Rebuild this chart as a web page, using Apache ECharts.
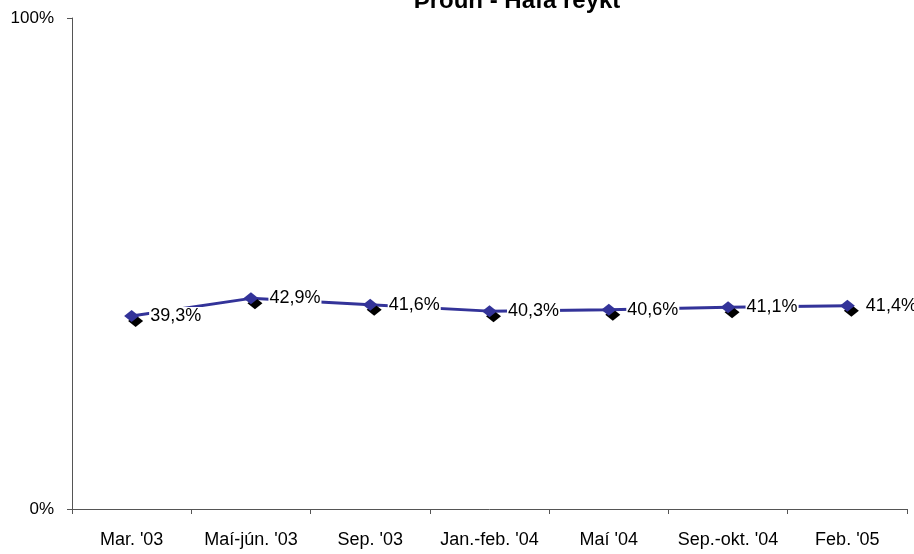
<!DOCTYPE html>
<html>
<head>
<meta charset="utf-8">
<style>
  html, body { margin: 0; padding: 0; background: #fff; }
  #chart { width: 914px; height: 554px; }
</style>
<script src="https://cdn.jsdelivr.net/npm/echarts@6/dist/echarts.min.js"></script>
</head>
<body>
<div id="chart"></div>
<script>
// values
var categories = ["Mar. '03", "Maí-jún. '03", "Sep. '03", "Jan.-feb. '04", "Maí '04", "Sep.-okt. '04", "Feb. '05"];
var values = [39.3, 42.9, 41.6, 40.3, 40.6, 41.1, 41.4];
var titleText = "Þróun - Hafa reykt";

var chart = echarts.init(document.getElementById("chart"));
var font = "'Liberation Sans', Arial, sans-serif";

chart.setOption({
  animation: false,
  title: {
    text: titleText,
    left: 512,
    top: -16,
    textAlign: "center",
    textStyle: { fontFamily: font, fontSize: 24, fontWeight: "bold", color: "#000" }
  },
  grid: { left: 72, right: 7, top: 18, bottom: 45, containLabel: false },
  xAxis: {
    type: "category",
    data: categories,
    boundaryGap: true,
    axisLine: { lineStyle: { color: "#555", width: 1 } },
    axisTick: { show: true, length: 5, lineStyle: { color: "#555" } },
    axisLabel: { interval: 0, fontFamily: font, fontSize: 18, color: "#000", margin: 22 },
    splitLine: { show: false }
  },
  yAxis: {
    type: "value",
    min: 0,
    max: 100,
    interval: 100,
    axisLine: { show: true, lineStyle: { color: "#555", width: 1 } },
    axisTick: { show: true, length: 5, lineStyle: { color: "#555" } },
    axisLabel: {
      fontFamily: font, fontSize: 17, color: "#000", margin: 18,
      formatter: function (v) { return v + "%"; }
    },
    splitLine: { show: false }
  },
  series: [{
    type: "line",
    data: values,
    symbol: "diamond",
    symbolSize: [15, 12],
    lineStyle: { color: "#333399", width: 3 },
    itemStyle: {
      color: "#333399",
      shadowColor: "#000",
      shadowOffsetX: 4,
      shadowOffsetY: 5,
      shadowBlur: 0
    },
    label: {
      show: true,
      position: "right",
      distance: 10,
      fontFamily: font,
      fontSize: 18,
      color: "#000",
      backgroundColor: "#fff",
      padding: [0, 1],
      formatter: function (p) { return p.value.toFixed(1).replace(".", ",") + "%"; }
    }
  }]
});
</script>
</body>
</html>
